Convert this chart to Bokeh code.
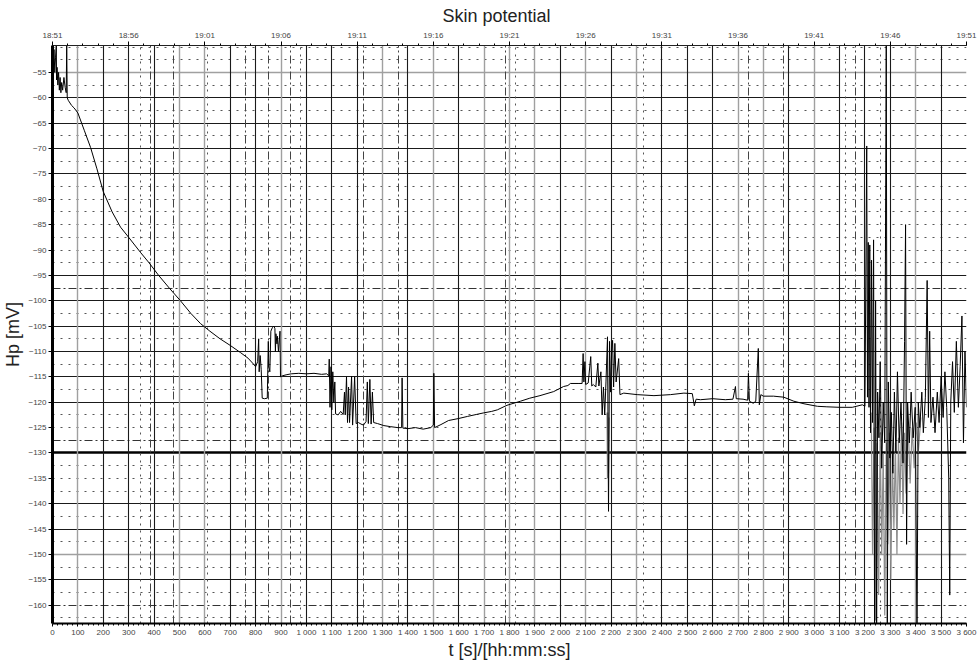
from bokeh.plotting import figure
from bokeh.models import LinearAxis, FixedTicker, Grid, Range1d
from bokeh.embed import file_html
from bokeh.resources import INLINE

# Skin potential recording: time [s] vs potential [mV]
t_s = [
    0, 3, 6, 9, 12, 15, 16, 18, 21, 24, 27, 30, 33, 36, 40, 45, 50, 54, 56,
    58, 62, 75, 85, 100, 125, 150, 175, 200, 235, 268, 300, 347, 380, 418,
    460, 504, 545, 583, 620, 660, 700, 740, 770, 792,
    800, 808, 812, 814, 818, 822, 826, 835, 846, 848, 850, 852, 856, 860,
    866, 872, 876, 878, 880, 884, 886, 890, 896, 898, 905, 920, 940, 970,
    1000, 1030, 1060, 1080, 1088,
    1090, 1093, 1097, 1100, 1104, 1108, 1112, 1115, 1125, 1135, 1145, 1150,
    1153, 1158, 1162, 1166, 1170, 1178, 1182, 1190, 1196, 1205, 1215, 1225,
    1235, 1240, 1244, 1250, 1255, 1260, 1265, 1280, 1305, 1330, 1360, 1375,
    1377, 1380, 1400, 1430, 1460, 1490, 1500, 1502, 1505, 1530, 1560, 1600,
    1634, 1670, 1698, 1730, 1752, 1790, 1843, 1880, 1920, 1974, 2013, 2030,
    2040, 2070, 2086, 2090, 2093, 2097, 2100, 2110, 2120, 2124, 2130, 2140,
    2148, 2152, 2160, 2165, 2170, 2175, 2180, 2186, 2190, 2194, 2198, 2202,
    2206, 2210, 2215, 2220, 2230, 2235, 2250, 2303, 2369, 2434, 2487, 2520,
    2528, 2535, 2552, 2600, 2650, 2680, 2690, 2693, 2720, 2738, 2741, 2745,
    2760, 2770, 2780, 2784, 2790, 2800, 2840, 2880, 2920, 2960, 3013, 3050,
    3100, 3150, 3190, 3200,
    3207, 3210, 3213, 3216, 3219, 3222, 3226, 3230, 3234, 3238, 3242, 3246,
    3250, 3255, 3260, 3266, 3272, 3278, 3284, 3288, 3292, 3298, 3304, 3310,
    3316, 3322, 3328, 3335, 3342, 3350, 3356, 3360, 3364, 3368, 3375, 3382,
    3390, 3398, 3405, 3410, 3416, 3424, 3430, 3438, 3445, 3450, 3455, 3460,
    3468, 3476, 3485, 3492, 3500, 3508, 3515, 3522, 3530, 3534, 3538, 3545,
    3552, 3560, 3568, 3575, 3582, 3588, 3594, 3600,
]
hp_mv = [
    -49.7, -53, -50.5, -55, -52, -49.7, -56.5, -54, -57.5, -55, -58.5, -56,
    -59, -57, -58.5, -56, -58, -59, -49.7, -60,
    -60.5, -61.5, -62, -63, -66.4, -69.8, -74, -78.5, -82.5, -85.5, -87.5,
    -90.5, -92.5, -95, -97.5, -100, -102.5, -104.5, -106, -107.5, -108.8,
    -110.2, -111.3, -112.5,
    -113, -112, -107.5, -114, -110.8, -113.5, -119.2, -119.3, -119.2, -113.5,
    -108, -113, -114, -106, -105.3, -105, -105.5, -110, -106.5, -108.5, -107,
    -110, -106, -115, -114.8, -114.6, -114.4, -114.3, -114.4, -114.3, -114.5,
    -114.4, -114.8,
    -111.5, -121, -113, -121.5, -114, -120, -116, -122.3, -122.5, -121.8,
    -122.4, -118, -122.5, -115, -124, -117, -124, -114.9, -124.5, -115,
    -124.2, -124, -124.3, -124.5, -123.8, -116, -124.2, -115.5, -124.3, -118,
    -124, -124.2, -124.6, -124.8, -125, -125, -115.2, -125.1, -125.2, -125,
    -125.3, -125, -124.5, -114.3, -125, -124.4, -123.6, -123.2, -122.8,
    -122.4, -122.1, -121.8, -121.5, -120.6, -119.8, -119.2, -118.7, -117.9,
    -116.9, -116.7, -116.3, -116.3, -116.3, -110.4, -116, -112, -116.5,
    -116.2, -111, -116.8, -116.5, -117, -112.3, -116.8, -114, -122.5, -117,
    -122.5, -116, -107.1, -141.5, -108, -118, -110, -107.8, -117, -108.4,
    -116, -111.4, -118.5, -118.2, -118.5, -118.7, -118.5, -118.2, -118.3,
    -120.7, -119.4, -119.5, -119.3, -119.5, -119.4, -116.9, -119.3, -119.4,
    -119.6, -114.3, -119.8, -120.2, -119.8, -109.4, -120.5, -118.5, -118.8,
    -118.8, -119, -119.8, -120.3, -120.8, -120.9, -121, -121, -120.5, -120.8,
    -69.5, -119, -88.5, -121, -89, -126, -92, -124, -88, -166, -100, -166,
    -118, -127, -112, -133, -120, -128, -47, -166, -116, -131, -122, -134,
    -118, -130, -114, -128, -120, -132, -108, -85, -148, -120, -128, -118,
    -127, -121, -166, -120, -125, -118, -126, -119, -96, -123, -106, -124,
    -119, -126, -118, -124, -115, -123, -114, -121, -135, -158, -120, -112,
    -122, -108, -121, -113, -103, -128, -110, -121,
]

# lighter overlay trace (second channel): two disturbed stretches
t_aux_a = [2184, 2186, 2188, 2190, 2192]
hp_aux_a = [-122, -135, -122, -134, -123]
t_aux_b = [3225, 3230, 3236, 3242, 3248, 3254, 3260, 3266, 3272, 3278, 3284,
           3290, 3296, 3302, 3308, 3314, 3320, 3326, 3332, 3338, 3344, 3350,
           3356, 3362, 3370, 3378, 3386, 3394, 3402, 3410, 3420]
hp_aux_b = [-122, -150, -125, -163, -128, -158, -126, -150, -130, -162, -128,
            -148, -126, -155, -130, -145, -128, -150, -127, -140, -124, -142,
            -126, -138, -124, -136, -125, -133, -124, -130, -123]

x_ticks = [0, 100, 200, 300, 400, 500, 600, 700, 800, 900, 1000, 1100, 1200,
           1300, 1400, 1500, 1600, 1700, 1800, 1900, 2000, 2100, 2200, 2300,
           2400, 2500, 2600, 2700, 2800, 2900, 3000, 3100, 3200, 3300, 3400,
           3500, 3600]
x_tick_labels = ["0", "100", "200", "300", "400", "500", "600", "700", "800",
                 "900", "1 000", "1 100", "1 200", "1 300", "1 400", "1 500",
                 "1 600", "1 700", "1 800", "1 900", "2 000", "2 100", "2 200",
                 "2 300", "2 400", "2 500", "2 600", "2 700", "2 800", "2 900",
                 "3 000", "3 100", "3 200", "3 300", "3 400", "3 500", "3 600"]
clock_ticks = [0, 300, 600, 900, 1200, 1500, 1800, 2100, 2400, 2700, 3000,
               3300, 3600]
clock_labels = ["18:51", "18:56", "19:01", "19:06", "19:11", "19:16", "19:21",
                "19:26", "19:31", "19:36", "19:41", "19:46", "19:51"]
y_ticks = [-55, -60, -65, -70, -75, -80, -85, -90, -95, -100, -105, -110,
           -115, -120, -125, -130, -135, -140, -145, -150, -155, -160]

# chart-paper style grid
h_black = [-60, -65, -70, -75, -95, -100, -105, -110, -115, -120, -140, -145, -155]
h_gray = [-55, -150]
h_heavy = [-130]
h_dashdot = [-97.5, -127.5, -160]
h_dotted = [-50, -52.5, -57.5, -62.5, -67.5, -72.5, -77.5, -80, -82.5, -85,
            -87.5, -90, -92.5, -102.5, -107.5, -112.5, -117.5, -122.5, -125,
            -132.5, -135, -137.5, -142.5, -147.5, -152.5, -157.5, -162.5]
v_black = [200, 300, 400, 700, 800, 1000, 1100, 1200, 1400, 1600, 2000, 2200,
           2400, 2500, 2600, 2900, 3100, 3200, 3300, 3500]
v_gray = [100, 500, 600, 900, 1300, 1500, 1700, 1800, 1900, 2100, 2300, 2700,
          2800, 3000, 3400]
v_dashdot = [386, 477, 760, 851, 937, 1225, 1363, 1784, 2741, 2879, 3163]
v_dotted = [347, 610, 977, 1824, 2328, 3123, 3261]

FONT = "Liberation Sans"

p = figure(width=980, height=662, output_backend="svg", toolbar_location=None,
           x_range=Range1d(0, 3600), y_range=Range1d(-163.6, -49.7),
           min_border_left=52, min_border_right=14, min_border_top=45,
           min_border_bottom=35, background_fill_color="white",
           border_fill_color="white", outline_line_color=None)

p.title.text = "Skin potential"
p.title.text_font = FONT
p.title.text_font_size = "18px"
p.title.text_font_style = "normal"
p.title.text_color = "#222222"
p.title.align = "left"
p.title.offset = 390
p.title.standoff = 3

p.xgrid.visible = False
p.ygrid.visible = False


def add_grid(dim, ticks, color, width, dash="solid", alpha=1.0):
    g = Grid(dimension=dim, ticker=FixedTicker(ticks=ticks),
             grid_line_color=color, grid_line_width=width,
             grid_line_dash=dash, grid_line_alpha=alpha)
    p.add_layout(g)


add_grid(1, h_dotted, "#555555", 1, "2 6")
add_grid(1, h_dashdot, "#333333", 1, "8 3 2 3")
add_grid(1, h_gray, "#a0a0a0", 1.5)
add_grid(1, h_black, "#1a1a1a", 1.2)
add_grid(1, h_heavy, "#000000", 2.4)
add_grid(0, v_dotted, "#555555", 1, "2 5")
add_grid(0, v_dashdot, "#444444", 1, "8 3 2 3")
add_grid(0, v_gray, "#a0a0a0", 1.4)
add_grid(0, v_black, "#1a1a1a", 1.1)

p.line(t_aux_a, hp_aux_a, line_color="#8c8c8c", line_width=1.2)
p.line(t_aux_b, hp_aux_b, line_color="#8c8c8c", line_width=1.2)
p.line(t_s, hp_mv, line_color="#000000", line_width=1)

# bottom axis: seconds
xa = p.xaxis[0]
xa.ticker = FixedTicker(ticks=x_ticks, minor_ticks=list(range(0, 3601, 20)))
xa.major_label_overrides = {t: lab for t, lab in zip(x_ticks, x_tick_labels)}
xa.axis_label = "t [s]/[hh:mm:ss]"
xa.axis_label_text_font = FONT
xa.axis_label_text_font_size = "18px"
xa.axis_label_text_font_style = "normal"
xa.axis_label_text_color = "#222222"
xa.axis_label_standoff = 0
xa.axis_line_width = 2
xa.axis_line_color = "#000000"
xa.major_tick_out = 3
xa.major_tick_in = 0
xa.minor_tick_out = 2
xa.minor_tick_in = 0
xa.major_label_text_font = FONT
xa.major_label_text_font_size = "8px"
xa.major_label_text_color = "#444444"
xa.major_label_standoff = 1

# left axis: potential
ya = p.yaxis[0]
ya.ticker = FixedTicker(ticks=y_ticks, minor_ticks=[])
ya.axis_label = "Hp [mV]"
ya.axis_label_text_font = FONT
ya.axis_label_text_font_size = "18px"
ya.axis_label_text_font_style = "normal"
ya.axis_label_text_color = "#222222"
ya.axis_label_standoff = 2
ya.axis_line_width = 3
ya.axis_line_color = "#000000"
ya.major_tick_out = 4
ya.major_tick_in = 0
ya.major_label_text_font = FONT
ya.major_label_text_font_size = "8px"
ya.major_label_text_color = "#444444"
ya.major_label_standoff = 2

# top axis: wall clock time
ta = LinearAxis(ticker=FixedTicker(ticks=clock_ticks,
                                   minor_ticks=list(range(0, 3601, 60))))
ta.major_label_overrides = {t: lab for t, lab in zip(clock_ticks, clock_labels)}
ta.axis_line_color = "#222222"
ta.axis_line_width = 1
ta.major_tick_out = 4
ta.major_tick_in = 0
ta.minor_tick_out = 2
ta.minor_tick_in = 0
ta.major_label_text_font = FONT
ta.major_label_text_font_size = "8px"
ta.major_label_text_color = "#444444"
ta.major_label_standoff = 2
p.add_layout(ta, "above")

open("out.html", "w").write(file_html(p, INLINE))
